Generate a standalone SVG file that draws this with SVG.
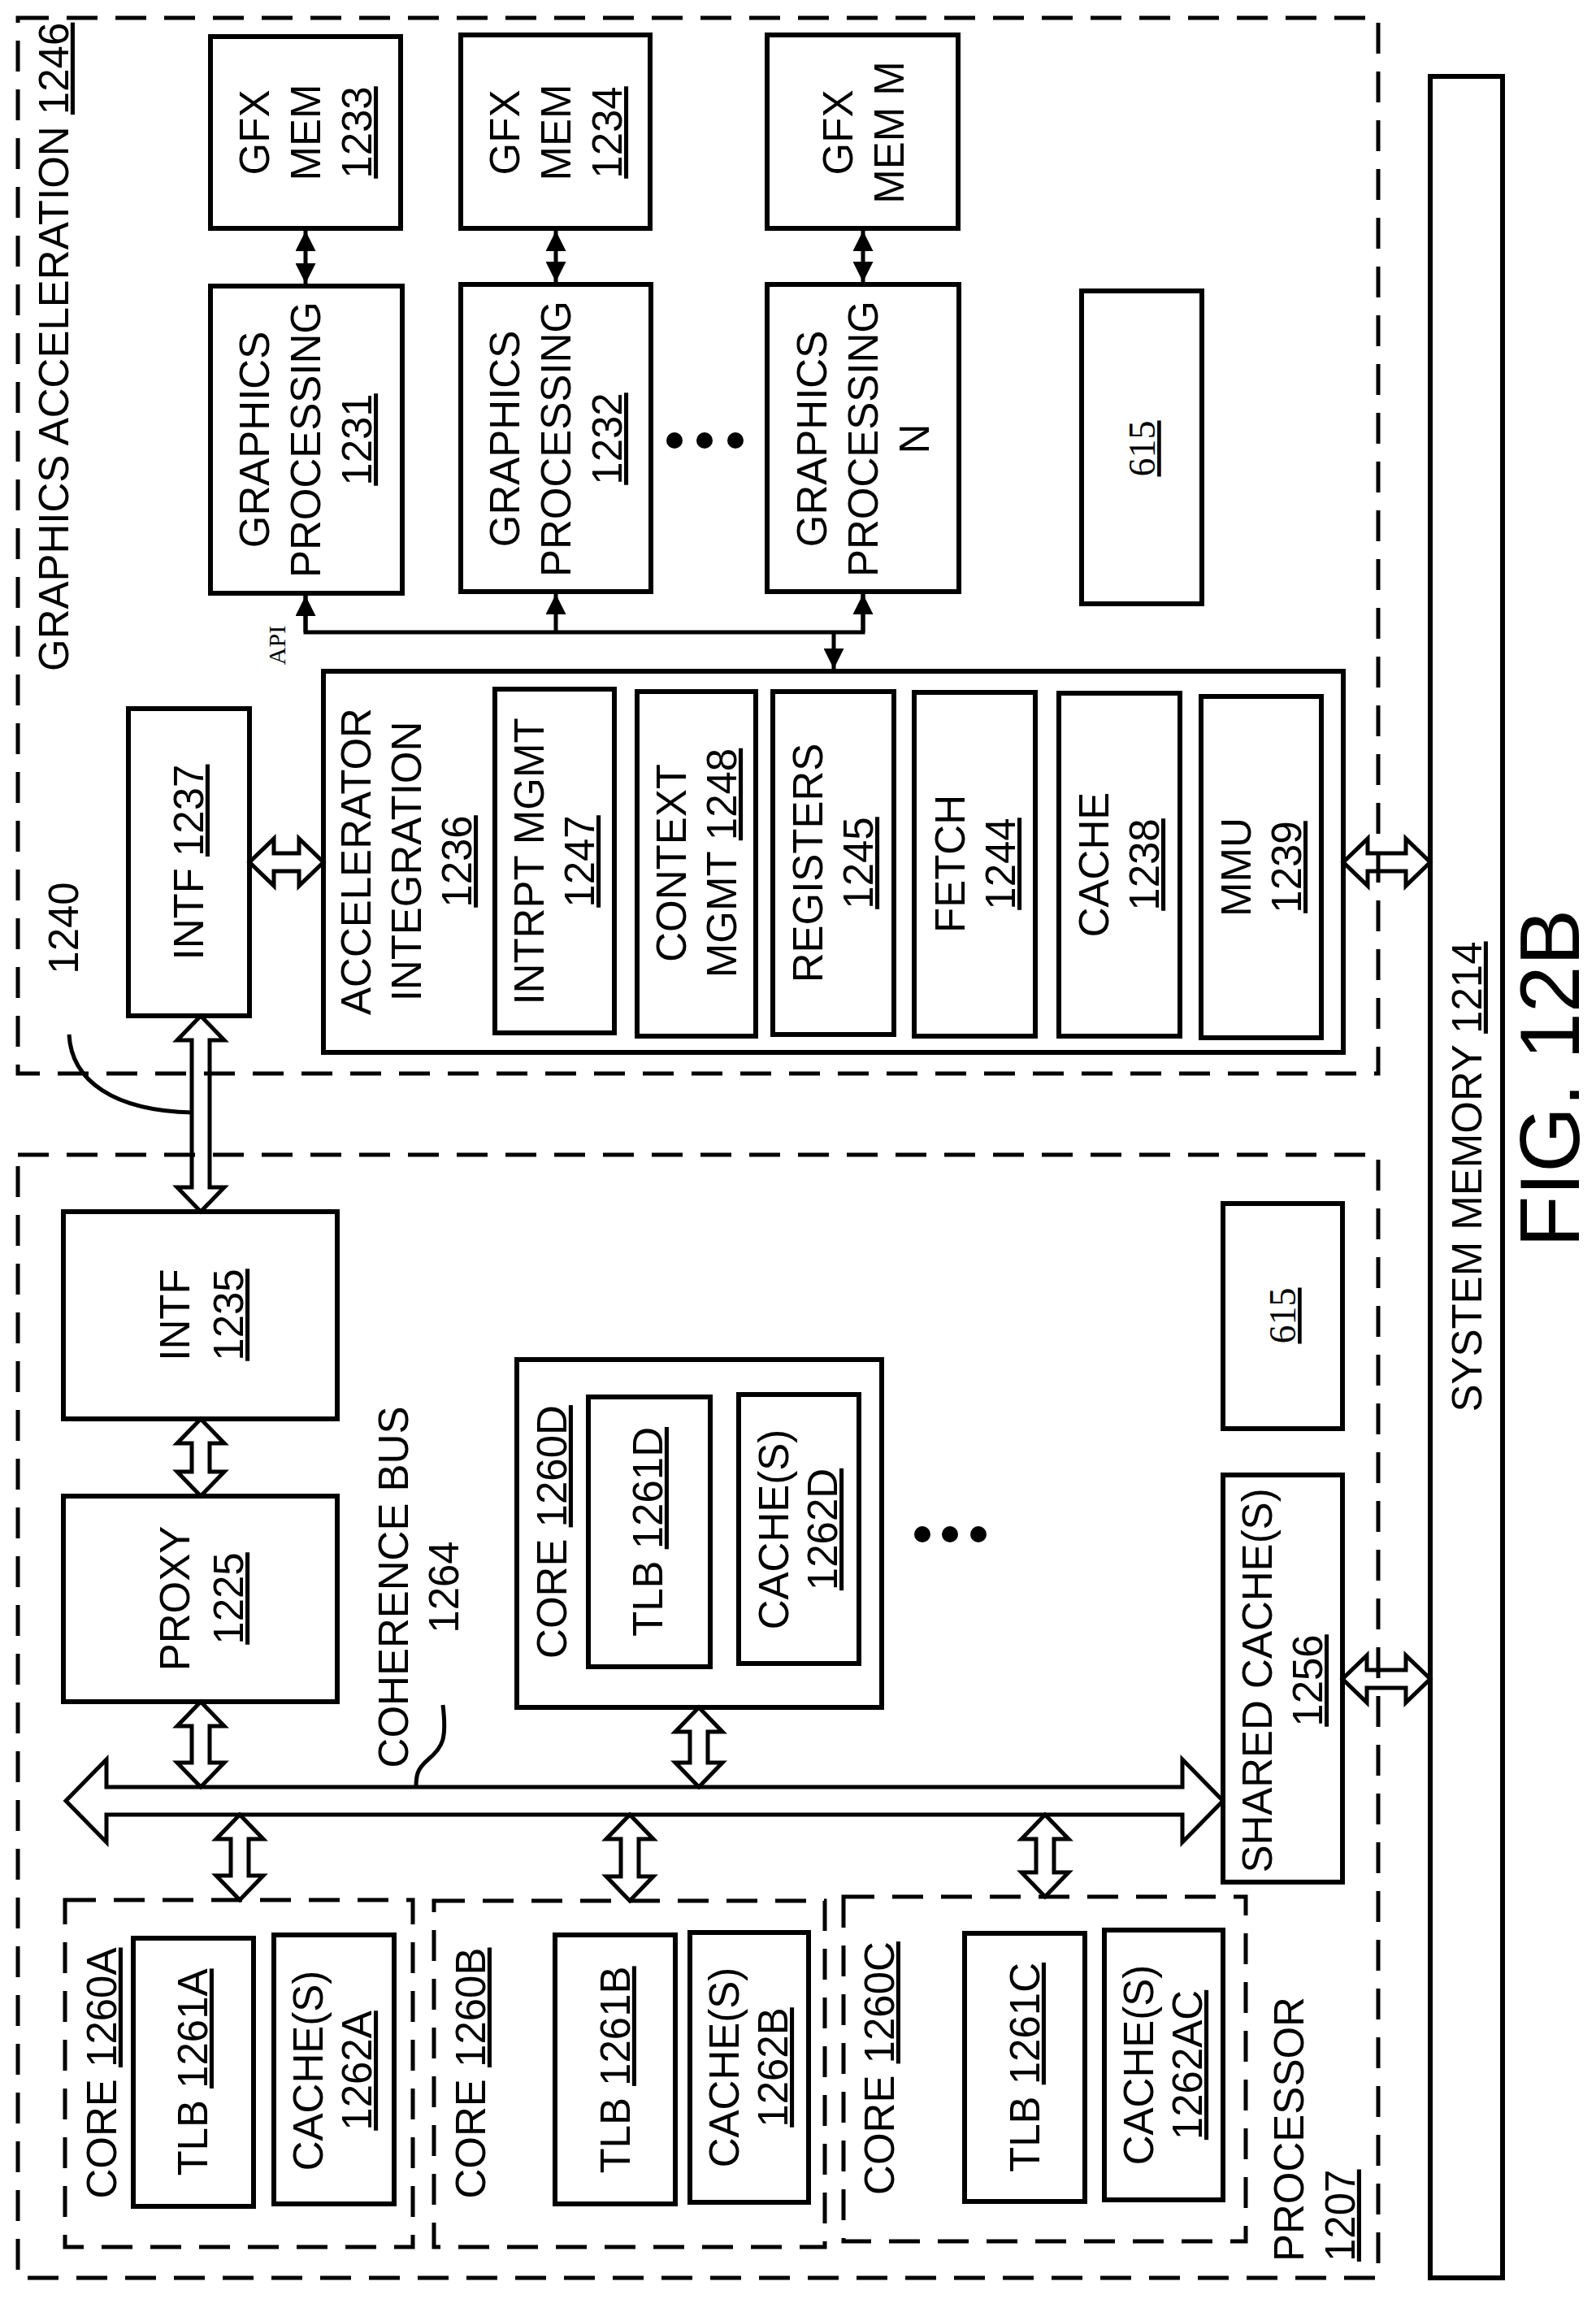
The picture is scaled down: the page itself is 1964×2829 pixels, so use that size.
<svg xmlns="http://www.w3.org/2000/svg" width="1964" height="2829" viewBox="0 0 1964 2829">
<style>
.b{fill:#fff;stroke:#000;stroke-width:6}
.d{fill:none;stroke:#000;stroke-width:5;stroke-dasharray:38 22}
.t{font-family:"Liberation Sans",Arial,sans-serif;font-size:51px;fill:#000}
.s{font-family:"Liberation Serif","Times New Roman",serif;font-size:46px;fill:#000}
.u{text-decoration:underline}
.h{fill:none;stroke:#000;stroke-width:5;stroke-linejoin:miter}
.l{fill:none;stroke:#000;stroke-width:5}
</style>
<defs>
<marker id="ah" viewBox="0 0 10 10" refX="10" refY="5" markerWidth="5" markerHeight="5" orient="auto-start-reverse" markerUnits="strokeWidth"><path d="M0,0 L10,5 L0,10 Z" fill="#000"/></marker>
</defs>
<rect width="1964" height="2829" fill="#fff"/>
<g id="ga-container"><rect class="d" x="22" y="22" width="1674" height="1299"/>
<text class="t" transform="translate(66,826) rotate(-90)" dy="0.35em">GRAPHICS ACCELERATION <tspan class="u">1246</tspan></text></g>
<g id="proc-container"><rect class="d" x="22" y="1421" width="1674" height="1382"/>
<text class="t" transform="translate(1586,2783) rotate(-90)"><tspan x="0" dy="0.35em">PROCESSOR</tspan><tspan x="0" dy="63" class="u">1207</tspan></text></g>
<g id="sysmem"><rect class="b" x="1760" y="94" width="89" height="2709"/>
<text class="t" text-anchor="middle" transform="translate(1805,1448) rotate(-90)" dy="0.35em">SYSTEM MEMORY <tspan class="u">1214</tspan></text></g>
<g id="fig"><text class="t" style="font-size:104px" text-anchor="middle" transform="translate(1907,1327) rotate(-90)" dy="0.35em">FIG. 12B</text></g>

<g id="gfxmem1233"><rect class="b" x="259" y="45" width="234" height="236"/>
<text class="t" text-anchor="middle" transform="translate(376,163) rotate(-90)"><tspan x="0" dy="-45">GFX</tspan><tspan x="0" dy="63">MEM</tspan><tspan x="0" dy="63" class="u">1233</tspan></text></g>
<g id="gfxmem1234"><rect class="b" x="567" y="43" width="233" height="238"/>
<text class="t" text-anchor="middle" transform="translate(684,163) rotate(-90)"><tspan x="0" dy="-45">GFX</tspan><tspan x="0" dy="63">MEM</tspan><tspan x="0" dy="63" class="u">1234</tspan></text></g>
<g id="gfxmemM"><rect class="b" x="944" y="43" width="235" height="238"/>
<text class="t" text-anchor="middle" transform="translate(1062,163) rotate(-90)"><tspan x="0" dy="-13">GFX</tspan><tspan x="0" dy="63">MEM M</tspan></text></g>
<g id="gp1231"><rect class="b" x="259" y="352" width="236" height="378"/>
<text class="t" text-anchor="middle" transform="translate(376,541) rotate(-90)"><tspan x="0" dy="-45">GRAPHICS</tspan><tspan x="0" dy="63">PROCESSING</tspan><tspan x="0" dy="63" class="u">1231</tspan></text></g>
<g id="gp1232"><rect class="b" x="567" y="350" width="234" height="378"/>
<text class="t" text-anchor="middle" transform="translate(684,540) rotate(-90)"><tspan x="0" dy="-45">GRAPHICS</tspan><tspan x="0" dy="63">PROCESSING</tspan><tspan x="0" dy="63" class="u">1232</tspan></text></g>
<g id="gpN"><rect class="b" x="944" y="350" width="236" height="378"/>
<text class="t" text-anchor="middle" transform="translate(1062,540) rotate(-90)"><tspan x="0" dy="-45">GRAPHICS</tspan><tspan x="0" dy="63">PROCESSING</tspan><tspan x="0" dy="63">N</tspan></text></g>
<g id="dots-ga"><circle cx="830" cy="542" r="10"/><circle cx="867" cy="542" r="10"/><circle cx="905" cy="542" r="10"/></g>
<g id="b615ga"><rect class="b" x="1331" y="358" width="148" height="385"/>
<text class="s u" text-anchor="middle" transform="translate(1405,552) rotate(-90)" dy="0.35em">615</text></g>

<g id="intf1237"><rect class="b" x="158" y="872" width="149" height="378"/>
<text class="t" text-anchor="middle" transform="translate(232,1061) rotate(-90)" dy="0.35em">INTF <tspan class="u">1237</tspan></text></g>
<g id="ai1236"><rect class="b" x="398" y="826" width="1255" height="469"/>
<text class="t" text-anchor="middle" transform="translate(501,1060) rotate(-90)"><tspan x="0" dy="-45">ACCELERATOR</tspan><tspan x="0" dy="62">INTEGRATION</tspan><tspan x="0" dy="62" class="u">1236</tspan></text></g>
<g id="im1247"><rect class="b" x="609" y="848" width="147" height="423"/>
<text class="t" text-anchor="middle" transform="translate(682,1060) rotate(-90)"><tspan x="0" dy="-13">INTRPT MGMT</tspan><tspan x="0" dy="62" class="u">1247</tspan></text></g>
<g id="cm1248"><rect class="b" x="784" y="851" width="146" height="424"/>
<text class="t" text-anchor="middle" transform="translate(857,1062) rotate(-90)"><tspan x="0" dy="-13">CONTEXT</tspan><tspan x="0" dy="62">MGMT <tspan class="u">1248</tspan></tspan></text></g>
<g id="reg1245"><rect class="b" x="951" y="851" width="149" height="422"/>
<text class="t" text-anchor="middle" transform="translate(1025,1062) rotate(-90)"><tspan x="0" dy="-13">REGISTERS</tspan><tspan x="0" dy="62" class="u">1245</tspan></text></g>
<g id="fetch1244"><rect class="b" x="1125" y="852" width="149" height="423"/>
<text class="t" text-anchor="middle" transform="translate(1200,1063) rotate(-90)"><tspan x="0" dy="-13">FETCH</tspan><tspan x="0" dy="62" class="u">1244</tspan></text></g>
<g id="cache1238"><rect class="b" x="1303" y="853" width="149" height="422"/>
<text class="t" text-anchor="middle" transform="translate(1377,1064) rotate(-90)"><tspan x="0" dy="-13">CACHE</tspan><tspan x="0" dy="62" class="u">1238</tspan></text></g>
<g id="mmu1239"><rect class="b" x="1478" y="857" width="148" height="420"/>
<text class="t" text-anchor="middle" transform="translate(1552,1067) rotate(-90)"><tspan x="0" dy="-13">MMU</tspan><tspan x="0" dy="62" class="u">1239</tspan></text></g>
<g id="lbl1240"><text class="t" text-anchor="middle" transform="translate(78,1142) rotate(-90)" dy="0.35em">1240</text></g>
<g id="lblapi"><text class="s" style="font-size:30px" text-anchor="middle" transform="translate(340,794) rotate(-90)" dy="0.35em">API</text></g>

<g id="intf1235"><rect class="b" x="78" y="1491" width="337" height="255"/>
<text class="t" text-anchor="middle" transform="translate(247,1618) rotate(-90)"><tspan x="0" dy="-14">INTF</tspan><tspan x="0" dy="66" class="u">1235</tspan></text></g>
<g id="proxy1225"><rect class="b" x="78" y="1841" width="337" height="253"/>
<text class="t" text-anchor="middle" transform="translate(247,1967) rotate(-90)"><tspan x="0" dy="-14">PROXY</tspan><tspan x="0" dy="66" class="u">1225</tspan></text></g>
<g id="lblbus"><text class="t" text-anchor="middle" transform="translate(515,1953) rotate(-90)"><tspan x="0" dy="-13">COHERENCE BUS</tspan><tspan x="0" dy="62">1264</tspan></text></g>
<g id="core1260D"><rect class="b" x="636" y="1673" width="449" height="428"/>
<text class="t" text-anchor="middle" transform="translate(679,1885) rotate(-90)" dy="0.35em">CORE <tspan class="u">1260D</tspan></text>
<rect class="b" x="724" y="1719" width="150" height="332"/>
<text class="t" text-anchor="middle" transform="translate(797,1885) rotate(-90)" dy="0.35em">TLB <tspan class="u">1261D</tspan></text>
<rect class="b" x="909" y="1716" width="148" height="331"/>
<text class="t" text-anchor="middle" transform="translate(983,1882) rotate(-90)"><tspan x="0" dy="-13">CACHE(S)</tspan><tspan x="0" dy="60" class="u">1262D</tspan></text></g>
<g id="dots-proc"><circle cx="1135" cy="1888" r="10"/><circle cx="1169" cy="1888" r="10"/><circle cx="1204" cy="1888" r="10"/></g>
<g id="b615proc"><rect class="b" x="1505" y="1481" width="147" height="277"/>
<text class="s u" text-anchor="middle" transform="translate(1578,1619) rotate(-90)" dy="0.35em">615</text></g>
<g id="shared1256"><rect class="b" x="1505" y="1815" width="147" height="501"/>
<text class="t" text-anchor="middle" transform="translate(1578,2068) rotate(-90)"><tspan x="0" dy="-13">SHARED CACHE(S)</tspan><tspan x="0" dy="62" class="u">1256</tspan></text></g>

<g id="core1260A"><rect class="d" x="80" y="2338" width="428" height="427"/>
<text class="t" text-anchor="middle" transform="translate(125,2551) rotate(-90)" dy="0.35em">CORE <tspan class="u">1260A</tspan></text>
<rect class="b" x="164" y="2385" width="148" height="330"/>
<text class="t" text-anchor="middle" transform="translate(237,2550) rotate(-90)" dy="0.35em">TLB <tspan class="u">1261A</tspan></text>
<rect class="b" x="337" y="2381" width="148" height="331"/>
<text class="t" text-anchor="middle" transform="translate(410,2548) rotate(-90)"><tspan x="0" dy="-13">CACHE(S)</tspan><tspan x="0" dy="60" class="u">1262A</tspan></text></g>
<g id="core1260B"><rect class="d" x="534" y="2339" width="481" height="426"/>
<text class="t" text-anchor="middle" transform="translate(579,2551) rotate(-90)" dy="0.35em">CORE <tspan class="u">1260B</tspan></text>
<rect class="b" x="683" y="2381" width="148" height="331"/>
<text class="t" text-anchor="middle" transform="translate(757,2547) rotate(-90)" dy="0.35em">TLB <tspan class="u">1261B</tspan></text>
<rect class="b" x="849" y="2378" width="146" height="332"/>
<text class="t" text-anchor="middle" transform="translate(922,2544) rotate(-90)"><tspan x="0" dy="-13">CACHE(S)</tspan><tspan x="0" dy="60" class="u">1262B</tspan></text></g>
<g id="core1260C"><rect class="d" x="1038" y="2334" width="495" height="424"/>
<text class="t" text-anchor="middle" transform="translate(1082,2545) rotate(-90)" dy="0.35em">CORE <tspan class="u">1260C</tspan></text>
<rect class="b" x="1187" y="2379" width="148" height="330"/>
<text class="t" text-anchor="middle" transform="translate(1261,2544) rotate(-90)" dy="0.35em">TLB <tspan class="u">1261C</tspan></text>
<rect class="b" x="1359" y="2375" width="146" height="332"/>
<text class="t" text-anchor="middle" transform="translate(1432,2541) rotate(-90)"><tspan x="0" dy="-13">CACHE(S)</tspan><tspan x="0" dy="60" class="u">1262AC</tspan></text></g>

<g id="connectors">
<line class="l" x1="376" y1="284" x2="376" y2="349" marker-start="url(#ah)" marker-end="url(#ah)"/>
<line class="l" x1="684" y1="284" x2="684" y2="347" marker-start="url(#ah)" marker-end="url(#ah)"/>
<line class="l" x1="1062" y1="284" x2="1062" y2="347" marker-start="url(#ah)" marker-end="url(#ah)"/>
<polyline class="l" points="376,733 376,778 1062,778 1062,731"/>
<line class="l" x1="376" y1="778" x2="376" y2="733" marker-end="url(#ah)"/>
<line class="l" x1="684" y1="778" x2="684" y2="731" marker-end="url(#ah)"/>
<line class="l" x1="1062" y1="778" x2="1062" y2="731" marker-end="url(#ah)"/>
<line class="l" x1="1026" y1="778" x2="1026" y2="823" marker-end="url(#ah)"/>
<path class="h" d="M307,1061 L337,1032 L337,1050 L368,1050 L368,1032 L398,1061 L368,1090 L368,1072 L337,1072 L337,1090 Z"/>
<path class="h" d="M1653,1061 L1683,1032 L1683,1050 L1730,1050 L1730,1032 L1760,1061 L1730,1090 L1730,1072 L1683,1072 L1683,1090 Z"/>
<path class="h" d="M1652,2066 L1682,2037 L1682,2055 L1730,2055 L1730,2037 L1760,2066 L1730,2095 L1730,2077 L1682,2077 L1682,2095 Z"/>
<path class="h" d="M247,1250 L276,1280 L258,1280 L258,1461 L276,1461 L247,1491 L218,1461 L236,1461 L236,1280 L218,1280 Z"/>
<path class="h" d="M247,1746 L276,1776 L258,1776 L258,1811 L276,1811 L247,1841 L218,1811 L236,1811 L236,1776 L218,1776 Z"/>
<path class="h" d="M247,2094 L276,2124 L258,2124 L258,2169 L276,2169 L247,2199 L218,2169 L236,2169 L236,2124 L218,2124 Z"/>
<path class="h" d="M860,2101 L889,2131 L871,2131 L871,2169 L889,2169 L860,2199 L831,2169 L849,2169 L849,2131 L831,2131 Z"/>
<path class="h" d="M295,2233 L324,2263 L306,2263 L306,2308 L324,2308 L295,2338 L266,2308 L284,2308 L284,2263 L266,2263 Z"/>
<path class="h" d="M775,2233 L804,2263 L786,2263 L786,2309 L804,2309 L775,2339 L746,2309 L764,2309 L764,2263 L746,2263 Z"/>
<path class="h" d="M1286,2233 L1315,2263 L1297,2263 L1297,2304 L1315,2304 L1286,2334 L1257,2304 L1275,2304 L1275,2263 L1257,2263 Z"/>
<path class="h" d="M81,2216 L131,2165 L131,2199 L1455,2199 L1455,2165 L1505,2216 L1455,2267 L1455,2233 L131,2233 L131,2267 Z"/>
<path class="l" d="M85,1273 C88,1330 140,1367 237,1369"/>
<path class="l" d="M545,2098 C550,2140 545,2150 527,2165 C513,2177 512,2185 512,2199"/>
</g>
</svg>
